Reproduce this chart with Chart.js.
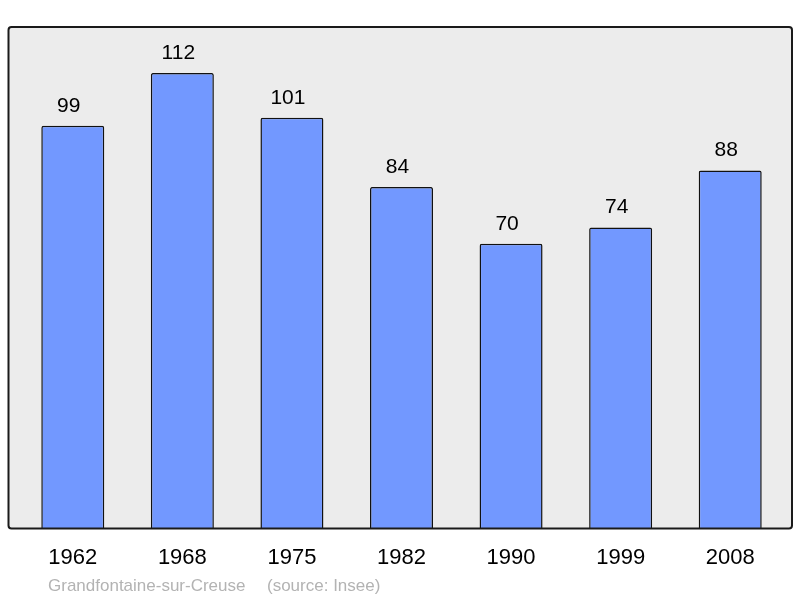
<!DOCTYPE html>
<html>
<head>
<meta charset="utf-8">
<script src="https://cdn.jsdelivr.net/npm/chart.js@4/dist/chart.umd.min.js"></script>
<style>
  html, body { margin: 0; padding: 0; background: #fff; }
  #wrap { width: 800px; height: 598px; }
</style>
</head>
<body>
<div id="wrap"><canvas id="grafico-population" width="800" height="598"></canvas></div>
<script>
const annees = ['1962', '1968', '1975', '1982', '1990', '1999', '2008'];
const population = [99, 112, 101, 84, 70, 74, 88];
const commune = 'Grandfontaine-sur-Creuse';
const source = '(source: Insee)';

// fond gris arrondi derrière les barres
const fondPlugin = {
  id: 'fond',
  beforeDraw(chart) {
    const { ctx, chartArea } = chart;
    const x0 = chartArea.left - 9.5, x1 = chartArea.right + 7;
    const y0 = chartArea.top, y1 = chartArea.bottom;
    ctx.save();
    ctx.beginPath();
    ctx.roundRect(x0, y0, x1 - x0, y1 - y0, 3);
    ctx.fillStyle = '#ececec';
    ctx.fill();
    ctx.restore();
  },
  afterDatasetsDraw(chart) {
    const { ctx, chartArea } = chart;
    const x0 = chartArea.left - 9.5, x1 = chartArea.right + 7;
    const y0 = chartArea.top, y1 = chartArea.bottom;
    ctx.save();
    ctx.beginPath();
    ctx.roundRect(x0, y0, x1 - x0, y1 - y0, 3);
    ctx.lineWidth = 2;
    ctx.strokeStyle = '#1a1a1a';
    ctx.stroke();

    // valeurs au-dessus des barres
    const meta = chart.getDatasetMeta(0);
    ctx.fillStyle = '#000';
    ctx.font = '21px "Liberation Sans", Arial, sans-serif';
    ctx.textAlign = 'center';
    ctx.textBaseline = 'middle';
    meta.data.forEach((bar, i) => {
      ctx.fillText(String(population[i]), bar.x - 4, bar.y - 20);
    });

    // légende en bas
    ctx.fillStyle = '#b3b3b3';
    ctx.font = '17px "Liberation Sans", Arial, sans-serif';
    ctx.textAlign = 'left';
    ctx.fillText(commune, 48, 586);
    ctx.fillText(source, 267, 586);
    ctx.restore();
  }
};

window.addEventListener('load', () => {
  const ctx = document.getElementById('grafico-population').getContext('2d');
  new Chart(ctx, {
    type: 'bar',
    data: {
      labels: annees,
      datasets: [{
        label: 'Population',
        data: population,
        backgroundColor: '#7298ff',
        borderColor: '#111',
        borderWidth: 1.5,
        borderRadius: { topLeft: 2, topRight: 2 },
        borderSkipped: 'bottom',
        barPercentage: 0.575,
        categoryPercentage: 1
      }]
    },
    options: {
      responsive: false,
      animation: false,
      layout: { padding: { left: 18, right: 15, top: 27, bottom: 19 } },
      plugins: { legend: { display: false }, tooltip: { enabled: false } },
      scales: {
        x: {
          grid: { display: false },
          border: { display: false },
          ticks: {
            color: '#000',
            padding: 8,
            font: { size: 22, family: '"Liberation Sans", Arial, sans-serif' }
          }
        },
        y: {
          display: false,
          min: 0,
          max: 123.3
        }
      }
    },
    plugins: [fondPlugin]
  });
});
</script>
</body>
</html>
